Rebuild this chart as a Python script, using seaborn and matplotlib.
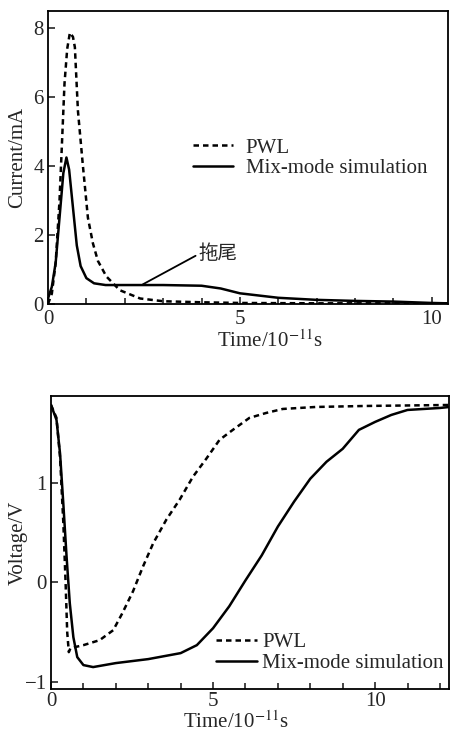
import numpy as np
import pandas as pd
import matplotlib
matplotlib.use("Agg")
import matplotlib.pyplot as plt
import seaborn as sns

# ---- Data: current (top panel) ----
cur_mix_t = [0.0, 0.1, 0.2, 0.3, 0.4, 0.48, 0.55, 0.65, 0.75, 0.85, 1.0, 1.2, 1.5, 2.0, 3.0, 4.0, 4.5, 5.0, 6.0, 7.0, 8.0, 9.0, 10.0, 10.4]
cur_mix_i = [0.16, 0.5, 1.2, 2.5, 3.8, 4.25, 3.9, 2.8, 1.7, 1.1, 0.75, 0.6, 0.55, 0.55, 0.55, 0.53, 0.45, 0.31, 0.18, 0.12, 0.09, 0.07, 0.03, 0.02]
cur_pwl_t = [0.0, 0.1, 0.2, 0.3, 0.35, 0.43, 0.5, 0.57, 0.65, 0.7, 0.78, 0.91, 1.04, 1.17, 1.3, 1.52, 1.87, 2.4, 3.0, 4.0, 5.0, 7.0, 10.4]
cur_pwl_i = [0.0, 0.3, 1.2, 3.0, 4.3, 6.4, 7.4, 7.87, 7.75, 7.45, 5.6, 4.0, 2.5, 1.76, 1.25, 0.8, 0.4, 0.16, 0.08, 0.05, 0.03, 0.02, 0.02]

# ---- Data: voltage (bottom panel) ----
vol_mix_t = [0.0, 0.17, 0.28, 0.38, 0.48, 0.58, 0.69, 0.81, 1.0, 1.3, 2.0, 3.0, 4.0, 4.5, 5.0, 5.5, 6.0, 6.5, 7.0, 7.5, 8.0, 8.5, 9.0, 9.5, 10.0, 10.5, 11.0, 12.0, 12.3]
vol_mix_v = [1.78, 1.63, 1.29, 0.79, 0.26, -0.21, -0.55, -0.75, -0.83, -0.85, -0.81, -0.77, -0.71, -0.63, -0.46, -0.24, 0.02, 0.27, 0.56, 0.81, 1.04, 1.21, 1.34, 1.53, 1.61, 1.68, 1.73, 1.75, 1.76]
vol_pwl_t = [0.0, 0.17, 0.28, 0.38, 0.45, 0.5, 0.55, 0.6, 1.0, 1.5, 1.92, 2.2, 2.53, 2.84, 3.15, 3.56, 3.97, 4.38, 4.79, 5.2, 5.61, 6.12, 6.64, 7.15, 8.17, 9.7, 12.3]
vol_pwl_v = [1.78, 1.65, 1.25, 0.6, 0.0, -0.5, -0.7, -0.66, -0.63, -0.58, -0.48, -0.31, -0.09, 0.16, 0.39, 0.63, 0.83, 1.06, 1.24, 1.43, 1.53, 1.65, 1.70, 1.74, 1.76, 1.77, 1.78]

series_names = ["PWL", "Mix-mode simulation"]

sns.set_style("ticks")
plt.rcParams["font.family"] = ["Liberation Serif", "Noto Sans CJK SC"]
plt.rcParams["mathtext.fontset"] = "stix"
plt.rcParams["font.size"] = 15
plt.rcParams["axes.linewidth"] = 1.3
plt.rcParams["xtick.direction"] = "in"
plt.rcParams["ytick.direction"] = "in"

fig = plt.figure(figsize=(4.5, 7.33), dpi=100)
ax1 = fig.add_axes([48/450, (733-304)/733, 400/450, 293/733])
ax2 = fig.add_axes([51/450, (733-689)/733, 398/450, 293/733])

dash = (0, (2.2, 1.6))

df1p = pd.DataFrame({"t": cur_pwl_t, "y": cur_pwl_i})
df1m = pd.DataFrame({"t": cur_mix_t, "y": cur_mix_i})
sns.lineplot(data=df1p, x="t", y="y", ax=ax1, color="black", lw=1.8, linestyle=dash, label=series_names[0])
sns.lineplot(data=df1m, x="t", y="y", ax=ax1, color="black", lw=1.8, label=series_names[1])

df2p = pd.DataFrame({"t": vol_pwl_t, "y": vol_pwl_v})
df2m = pd.DataFrame({"t": vol_mix_t, "y": vol_mix_v})
sns.lineplot(data=df2p, x="t", y="y", ax=ax2, color="black", lw=1.8, linestyle=dash, label=series_names[0])
sns.lineplot(data=df2m, x="t", y="y", ax=ax2, color="black", lw=1.8, label=series_names[1])

# Top axes formatting
ax1.set_xlim(0, 10.42)
ax1.set_ylim(0, 8.5)
ax1.set_xticks([0, 5, 10])
ax1.set_xticks(np.arange(0, 11, 1), minor=True)
ax1.set_yticks([0, 2, 4, 6, 8])
ax1.set_xlabel(r"Time/10$^{-11}$s")
ax1.set_ylabel("Current/mA")
ax1.xaxis.set_label_coords(0.555, -0.09)
ax1.yaxis.set_label_coords(-0.052, 0.5)

ax1.annotate("拖尾", xy=(2.47, 0.57), xytext=(3.93, 1.45),
             ha="left", va="center", fontsize=14,
             arrowprops=dict(arrowstyle="-", color="black", lw=1.3, shrinkA=0, shrinkB=0,
                             relpos=(0, 0.5)))

# Bottom axes formatting
ax2.set_xlim(0, 12.28)
ax2.set_ylim(-1.07, 1.87)
ax2.set_xticks([0, 5, 10])
ax2.set_xticks(np.arange(0, 13, 1), minor=True)
ax2.set_yticks([-1, 0, 1])
ax2.set_yticklabels(["\u22121", "0", "1"])
ax2.set_xlabel(r"Time/10$^{-11}$s")
ax2.set_ylabel("Voltage/V")
ax2.xaxis.set_label_coords(0.466, -0.077)
ax2.yaxis.set_label_coords(-0.058, 0.5)

for ax in (ax1, ax2):
    for s in ax.spines.values():
        s.set_visible(True)
        s.set_color("black")
    ax.tick_params(which="major", length=5, width=1.2, pad=3, labelsize=15)
    ax.tick_params(which="minor", length=4, width=1.2)
    ax.tick_params(axis="x", which="both", top=False, pad=4)
ax2.tick_params(axis="x", which="both", pad=2.5)

leg1 = ax1.legend(loc="upper left", bbox_to_anchor=(0.362, 0.566), frameon=False,
                  handlelength=1.95, handletextpad=0.58, labelspacing=0.05, fontsize=15,
                  borderaxespad=0, borderpad=0)
leg2 = ax2.legend(loc="lower left", bbox_to_anchor=(0.415, 0.055), frameon=False,
                  handlelength=1.95, handletextpad=0.25, labelspacing=0.05, fontsize=15,
                  borderaxespad=0, borderpad=0)

fig.savefig("out.png", dpi=100)
